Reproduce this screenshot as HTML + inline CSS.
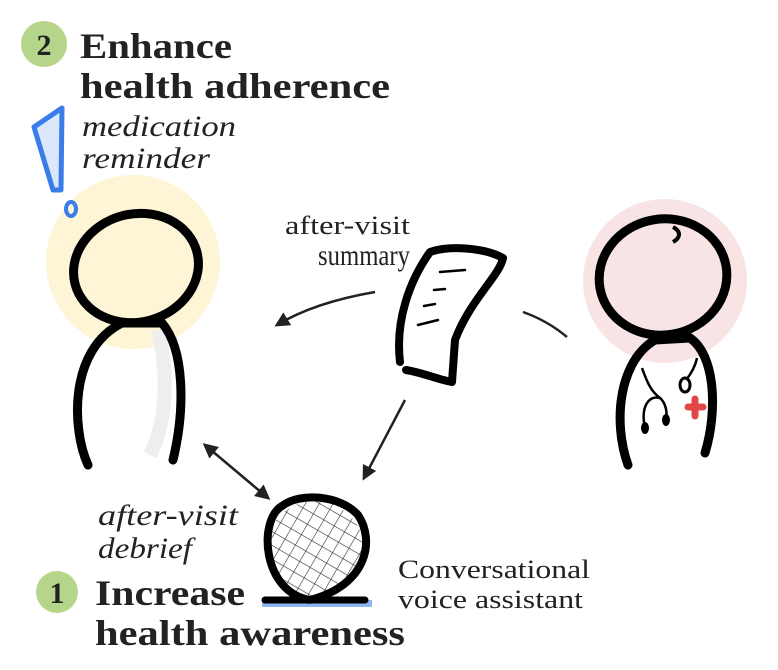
<!DOCTYPE html>
<html><head><meta charset="utf-8"><style>
html,body{margin:0;padding:0;background:#fff;}
svg{display:block;}
text{font-family:"Liberation Serif",serif;fill:#222;}
</style></head><body>
<svg width="778" height="670" viewBox="0 0 778 670" xmlns="http://www.w3.org/2000/svg">
<defs>
<marker id="ah" viewBox="0 0 10 10" refX="8" refY="5" markerWidth="6" markerHeight="6" orient="auto-start-reverse">
<path d="M0,0 L10,5 L0,10 z" fill="#222"/></marker>
<pattern id="grid" width="12" height="12" patternUnits="userSpaceOnUse" patternTransform="rotate(30)">
<path d="M0,0 H12 M0,0 V12" stroke="#333" stroke-width="1.2" fill="none"/></pattern>
</defs>
<circle cx="44" cy="44" r="23" fill="#b5d68a"/>
<text x="44" y="55" font-size="30" font-weight="bold" text-anchor="middle">2</text>
<text x="80" y="58" font-size="36" font-weight="bold" textLength="152" lengthAdjust="spacingAndGlyphs">Enhance</text>
<text x="80" y="98" font-size="36" font-weight="bold" textLength="310" lengthAdjust="spacingAndGlyphs">health adherence</text>
<text x="82" y="136" font-size="30" font-style="italic" textLength="154" lengthAdjust="spacingAndGlyphs">medication</text>
<text x="82" y="168" font-size="30" font-style="italic" textLength="128" lengthAdjust="spacingAndGlyphs">reminder</text>
<circle cx="133" cy="262" r="87" fill="#fdf5d5"/>
<path d="M34,127 L62,108 L61,190 L53,190 Z" fill="#dbe8fb" stroke="#3a7de8" stroke-width="5" stroke-linejoin="round"/>
<ellipse cx="71" cy="209" rx="5" ry="7" fill="none" stroke="#3a7de8" stroke-width="4"/>
<path d="M158,330 C168,370 168,420 150,455" stroke="#eee" stroke-width="14" fill="none"/>
<ellipse cx="136" cy="268" rx="63" ry="54" transform="rotate(-15 136 268)" fill="none" stroke="#000" stroke-width="9"/>
<path d="M88,465 C72,430 68,350 122,323 L162,323 C185,350 185,410 173,460" stroke="#000" stroke-width="9" fill="none" stroke-linecap="round"/>
<text x="285" y="234" font-size="26" textLength="125" lengthAdjust="spacingAndGlyphs">after-visit</text>
<text x="318" y="265" font-size="30" textLength="92" lengthAdjust="spacingAndGlyphs">summary</text>
<path d="M400,362 C395,320 410,280 430,252 C450,245 485,248 503,258 C500,275 470,300 455,340 L452,382 C440,380 420,372 406,370" stroke="#000" stroke-width="8" fill="none" stroke-linecap="round" stroke-linejoin="round"/>
<path d="M440,272 L465,270 M434,290 L445,289 M424,306 L435,304 M418,325 L438,320" stroke="#000" stroke-width="2.5" stroke-linecap="round"/>
<path d="M375,292 C340,298 305,308 277,325" stroke="#222" stroke-width="2.5" fill="none" marker-end="url(#ah)"/>
<path d="M523,312 C540,318 555,327 567,337" stroke="#222" stroke-width="2.5" fill="none"/>
<path d="M405,400 L364,478" stroke="#222" stroke-width="2.5" fill="none" marker-end="url(#ah)"/>
<path d="M205,445 L268,498" stroke="#222" stroke-width="2.5" fill="none" marker-end="url(#ah)" marker-start="url(#ah)"/>
<circle cx="665" cy="281" r="82" fill="#f8e4e4"/>
<ellipse cx="663" cy="277" rx="64" ry="58" transform="rotate(-10 663 277)" fill="none" stroke="#000" stroke-width="9"/>
<path d="M673,227 C682,232 680,238 673,242" stroke="#000" stroke-width="4" fill="none"/>
<path d="M628,465 C612,420 620,360 655,340 L690,338 C715,355 718,410 705,453" stroke="#000" stroke-width="9" fill="none" stroke-linecap="round"/>
<path d="M642,368 C648,385 652,392 660,398 M660,398 C650,395 640,405 645,428 M660,398 C668,405 667,418 666,425" stroke="#000" stroke-width="2.5" fill="none"/>
<ellipse cx="645" cy="428" rx="4" ry="6" fill="#000"/><ellipse cx="666" cy="420" rx="4" ry="6" fill="#000"/>
<path d="M697,358 C695,368 690,375 686,380" stroke="#000" stroke-width="2.5" fill="none"/>
<ellipse cx="685" cy="385" rx="5" ry="7" fill="none" stroke="#000" stroke-width="3"/>
<path d="M688,407 L703,407 M695,399 L695,416" stroke="#e04848" stroke-width="7" stroke-linecap="round"/>
<rect x="262" y="600" width="110" height="7" fill="#6fa3ee" opacity="0.8"/>
<circle cx="315" cy="550" r="49" fill="url(#grid)"/>
<path d="M310,600 C262,592 258,520 282,506 C300,492 340,495 358,515 C375,540 368,585 310,600" stroke="#000" stroke-width="8" fill="none"/>
<path d="M265,600 L365,600" stroke="#000" stroke-width="7" stroke-linecap="round"/>
<text x="398" y="578" font-size="26" textLength="192" lengthAdjust="spacingAndGlyphs">Conversational</text>
<text x="398" y="608" font-size="26" textLength="185" lengthAdjust="spacingAndGlyphs">voice assistant</text>
<text x="98" y="525" font-size="30" font-style="italic" textLength="140" lengthAdjust="spacingAndGlyphs">after-visit</text>
<text x="98" y="558" font-size="30" font-style="italic" textLength="94" lengthAdjust="spacingAndGlyphs">debrief</text>
<circle cx="57" cy="592" r="21" fill="#b5d68a"/>
<text x="57" y="603" font-size="30" font-weight="bold" text-anchor="middle">1</text>
<text x="95" y="605" font-size="36" font-weight="bold" textLength="150" lengthAdjust="spacingAndGlyphs">Increase</text>
<text x="95" y="645" font-size="36" font-weight="bold" textLength="310" lengthAdjust="spacingAndGlyphs">health awareness</text>
</svg>
</body></html>
